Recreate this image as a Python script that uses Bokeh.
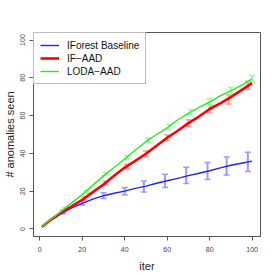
from bokeh.plotting import figure
from bokeh.models import Range1d, FixedTicker, Legend, LegendItem, Whisker, ColumnDataSource, TeeHead
from bokeh.embed import file_html
from bokeh.resources import INLINE

# ---- data ----
iters = [1, 5, 10, 15, 20, 25, 30, 35, 40, 45, 50, 55, 60, 65, 70, 75, 80, 85, 90, 95, 100]
baseline = [1, 4.5, 8.0, 11.2, 13.5, 15.8, 17.6, 18.9, 20.0, 21.5, 22.7, 24.2, 25.5, 26.8, 28.2, 29.5, 30.8, 32.3, 33.7, 34.8, 35.9]
if_aad = [1, 4.7, 8.7, 12.0, 15.4, 19.5, 23.5, 28.2, 32.5, 36.0, 39.8, 44.0, 48.3, 52.0, 56.0, 59.5, 63.5, 66.5, 69.8, 73.5, 77.2]
loda_aad = [1, 4.9, 9.2, 13.8, 18.2, 23.2, 28.1, 32.5, 37.0, 41.8, 46.2, 50.0, 53.5, 57.8, 61.2, 64.3, 67.3, 70.5, 73.2, 76.0, 79.5]

base_eb_x = [11, 20, 30, 40, 49, 59, 69, 79, 88, 98]
base_eb_y = [8.8, 13.8, 17.6, 20.0, 22.5, 25.4, 28.3, 30.7, 33.3, 35.5]
base_eb_err = [0.8, 1.1, 1.5, 2.0, 2.9, 3.5, 4.3, 4.5, 4.8, 5.1]

if_eb_x = [11, 21, 31, 41, 50, 60, 70, 80, 89, 98]
if_eb_y = [9.5, 16.2, 24.3, 33.1, 39.8, 48.3, 56.0, 63.5, 68.6, 76.0]
if_eb_err = [0.5, 0.8, 1.0, 1.2, 1.4, 1.5, 1.8, 2.0, 2.5, 2.2]

loda_eb_x = [12, 22, 31, 41, 51, 61, 71, 80, 90, 100]
loda_eb_y = [11.0, 19.6, 29.1, 37.9, 47.0, 54.0, 61.8, 67.3, 73.2, 79.5]
loda_eb_err = [0.5, 0.6, 0.8, 1.0, 1.2, 1.3, 1.4, 1.6, 1.8, 1.8]

labels = ["IForest Baseline", "IF\u2212AAD", "LODA\u2212AAD"]
x_ticks = [0, 20, 40, 60, 80, 100]
y_ticks = [0, 20, 40, 60, 80, 100]

FONT = "Liberation Sans"

p = figure(width=277, height=277, output_backend="svg", toolbar_location=None,
           x_range=Range1d(-2.96, 103.96), y_range=Range1d(-4, 104),
           min_border_left=32, min_border_top=32, min_border_right=17, min_border_bottom=41)
p.xgrid.visible = False
p.ygrid.visible = False
p.outline_line_color = "#555555"
p.outline_line_width = 1
p.background_fill_color = "white"
p.border_fill_color = "white"

for ax in (p.xaxis[0], p.yaxis[0]):
    ax.axis_line_color = "#555555"
    ax.major_tick_line_color = "#555555"
    ax.major_tick_out = 4
    ax.major_tick_in = 0
    ax.minor_tick_line_color = None
    ax.major_label_text_font = FONT
    ax.major_label_text_font_size = "7px"
    ax.major_label_text_color = "#444444"
    ax.axis_label_text_font = FONT
    ax.axis_label_text_font_size = "11px"
    ax.axis_label_text_font_style = "normal"
    ax.axis_label_text_color = "#222222"

p.xaxis.ticker = FixedTicker(ticks=x_ticks)
p.yaxis.ticker = FixedTicker(ticks=y_ticks)
p.xaxis.axis_label = "iter"
p.yaxis.axis_label = "# anomalies seen"
p.yaxis.major_label_orientation = "vertical"
p.xaxis.major_label_standoff = 6
p.yaxis.major_label_standoff = 4
p.xaxis.axis_label_standoff = 5
p.yaxis.axis_label_standoff = 2

series = [
    (iters, baseline, base_eb_x, base_eb_y, base_eb_err, "#2222ff", 1.4, "#9a9aff"),
    (iters, if_aad, if_eb_x, if_eb_y, if_eb_err, "#ff0000", 2.6, "#ff9a9a"),
    (iters, loda_aad, loda_eb_x, loda_eb_y, loda_eb_err, "#22ee22", 1.4, "#9aff9a"),
]

renderers = []
for xs, ys, ex, ey, ee, col, lw, ecol in series:
    r = p.line(xs, ys, line_color=col, line_width=lw)
    renderers.append(r)
    src = ColumnDataSource(data=dict(x=ex, lo=[a - b for a, b in zip(ey, ee)], hi=[a + b for a, b in zip(ey, ee)]))
    w = Whisker(source=src, base="x", lower="lo", upper="hi", line_color=ecol, line_width=2,
                upper_head=TeeHead(size=6, line_color=ecol, line_width=1.5),
                lower_head=TeeHead(size=6, line_color=ecol, line_width=1.5))
    p.add_layout(w)

legend = Legend(items=[LegendItem(label=l, renderers=[r]) for l, r in zip(labels, renderers)],
                location="top_left", margin=0, padding=6, spacing=1,
                glyph_width=19, glyph_height=12, label_height=12, label_standoff=8,
                label_text_font=FONT, label_text_font_size="10px", label_text_color="#111111",
                border_line_color="#777777", border_line_width=1, background_fill_alpha=1)
p.add_layout(legend)

open("out.html", "w").write(file_html(p, INLINE))
